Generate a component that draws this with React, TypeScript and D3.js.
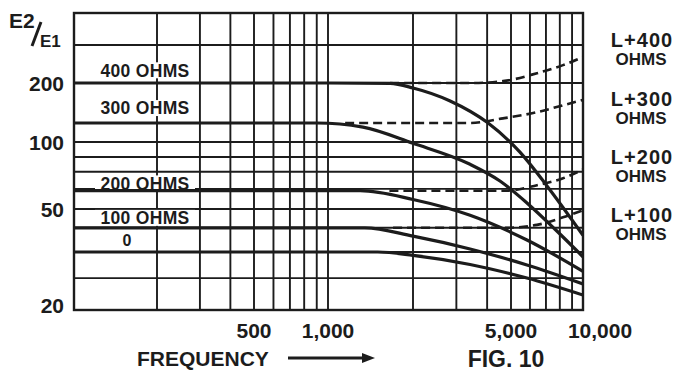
import React from 'react';
import * as d3 from 'd3';

// ---- axis data ----
const xGridValues = [200, 300, 400, 500, 600, 700, 800, 900, 1000, 2000, 3000, 4000, 5000, 6000, 7000, 8000, 9000];
const xLabelValues = [500, 1000, 5000, 10000];
const xLabelTexts = ['500', '1,000', '5,000', '10,000'];
const yGridValues = [25, 30, 40, 50, 60, 70, 80, 100, 200, 300];
const yLabelValues = [200, 100, 50, 20];
const yLabelTexts = ['200', '100', '50', '20'];

// ---- solid curves (resistance R) ----
const f400 = [100, 1000, 1660, 2000, 2830, 4000, 5450, 7070, 10000];
const v400 = [200, 200, 199, 188.7, 162, 126, 86, 61.6, 36.6];
const f300 = [100, 900, 1330, 2000, 3410, 4510, 5830, 7640, 10000];
const v300 = [125, 125, 119, 98, 74.9, 64.4, 52.8, 39.3, 29];
const f200 = [100, 1300, 2000, 3410, 5830, 10000];
const v200 = [59, 59, 54.5, 46.4, 34.6, 26.2];
const f100 = [100, 1350, 2000, 3410, 5830, 10000];
const v100 = [40, 40, 36.2, 31.1, 27.4, 24];
const f0 = [100, 1500, 2000, 3410, 5830, 10000];
const v0 = [30, 30, 29.3, 27.5, 25.0, 22.2];

// ---- dashed curves (L + R) ----
const fL400 = [1660, 3400, 4640, 6420, 8250, 10000];
const vL400 = [200, 200, 204, 222, 242, 264];
const fL300 = [1150, 3400, 4640, 6420, 8250, 10000];
const vL300 = [125, 125, 132, 142, 154, 164];
const fL200 = [1650, 4800, 6420, 8250, 10000];
const vL200 = [59, 59, 62, 66, 71.5];
const fL100 = [1700, 4700, 6420, 8250, 10000];
const vL100 = [40, 40, 41.4, 45.3, 49.3];

const curveLabels = ['400 OHMS', '300 OHMS', '200 OHMS', '100 OHMS', '0'];
const curveLabelValues = [229, 149, 63, 45, 34.6];
const rightLabels = ['L+400', 'L+300', 'L+200', 'L+100'];

const W = 686;
const H = 373;
const FONT = '"Liberation Sans", Arial, sans-serif';
const INK = '#1c1c1c';

export default function App() {
  const x = d3.scaleLog()
    .domain([100, 200, 500, 1000, 2000, 5000, 10000])
    .range([74, 157, 254, 328, 413, 511, 583]);
  const y = d3.scaleLog()
    .domain([20, 30, 50, 80, 100, 200, 300, 400])
    .range([310, 252, 209, 157, 142, 83, 45, 13]);

  const [x0, x1] = [x(100), x(10000)];
  const [yb, yt] = [y(20), y(400)];

  const line = d3.line<[number, number]>()
    .x(d => x(d[0]))
    .y(d => y(d[1]))
    .curve(d3.curveMonotoneX);
  const zip = (f: number[], v: number[]) => f.map((fv, i) => [fv, v[i]] as [number, number]);

  const solids = [zip(f400, v400), zip(f300, v300), zip(f200, v200), zip(f100, v100), zip(f0, v0)];
  const dashes = [zip(fL400, vL400), zip(fL300, vL300), zip(fL200, vL200), zip(fL100, vL100)];
  const rightY = [40, 99, 157, 215];

  return (
    <svg width={W} height={H} style={{ position: 'absolute', left: 0, top: 0, background: '#fff' }}>
      <defs>
        <clipPath id="plot">
          <rect x={x0} y={yt} width={x1 - x0} height={yb - yt} />
        </clipPath>
      </defs>
      <rect width={W} height={H} fill="#fff" />

      {/* grid */}
      <g stroke={INK} strokeWidth={1.9}>
        {xGridValues.map(v => (
          <line key={'vx' + v} x1={x(v)} x2={x(v)} y1={yt} y2={yb} />
        ))}
        {yGridValues.map(v => (
          <line key={'hy' + v} x1={x0} x2={x1} y1={y(v)} y2={y(v)} />
        ))}
      </g>
      <rect x={x0} y={yt} width={x1 - x0} height={yb - yt} fill="none" stroke={INK} strokeWidth={2.4} />

      {/* curve labels with white backgrounds */}
      {curveLabels.map((t, i) => {
        const cy = y(curveLabelValues[i]);
        const isZero = t === '0';
        const cx = isZero ? 127 : 145;
        const w = isZero ? 16 : 100;
        return (
          <g key={t}>
            <rect x={cx - w / 2} y={cy - 8} width={w} height={16} fill="#fff" />
            <text x={cx} y={cy} dy="0.36em" textAnchor="middle" fontFamily={FONT} fontWeight={700}
              fontSize={isZero ? 16 : 17.5} fill={INK} letterSpacing={isZero ? 0 : 0.3}>{t}</text>
          </g>
        );
      })}

      {/* curves */}
      <g clipPath="url(#plot)" fill="none" stroke={INK}>
        {dashes.map((d, i) => (
          <path key={'d' + i} d={line(d) || ''} strokeWidth={2.6} strokeDasharray="9,5" />
        ))}
        {solids.map((d, i) => (
          <path key={'s' + i} d={line(d) || ''} strokeWidth={3.2} />
        ))}
      </g>

      {/* y labels */}
      {yLabelValues.map((v, i) => (
        <text key={'yl' + v} x={64} y={y(v) - (v === 20 ? 5 : 0)} dy="0.36em" textAnchor="end"
          fontFamily={FONT} fontWeight={700} fontSize={21} fill={INK}>{yLabelTexts[i]}</text>
      ))}

      {/* x labels */}
      {xLabelValues.map((v, i) => (
        <text key={'xl' + v} x={x(v) + (v === 10000 ? 17 : 0)} y={330} dy="0.36em" textAnchor="middle"
          fontFamily={FONT} fontWeight={700} fontSize={21} fill={INK}>{xLabelTexts[i]}</text>
      ))}

      {/* E2/E1 */}
      <text x={9} y={28} fontFamily={FONT} fontWeight={700} fontSize={21} fill={INK}>E2</text>
      <line x1={32} y1={46} x2={41} y2={22} stroke={INK} strokeWidth={3} />
      <text x={40} y={47} fontFamily={FONT} fontWeight={700} fontSize={17} fill={INK}>E1</text>

      {/* right labels */}
      {rightLabels.map((t, i) => (
        <g key={t} fontFamily={FONT} fontWeight={700} fill={INK} textAnchor="middle">
          <text x={642} y={rightY[i]} dy="0.36em" fontSize={20} letterSpacing={1}>{t}</text>
          <text x={641} y={rightY[i] + 19} dy="0.36em" fontSize={17}>OHMS</text>
        </g>
      ))}

      {/* bottom */}
      <text x={137} y={358} dy="0.36em" fontFamily={FONT} fontWeight={700} fontSize={21} fill={INK}>FREQUENCY</text>
      <line x1={288} y1={358} x2={364} y2={358} stroke={INK} strokeWidth={3} />
      <polygon points="362,353 375,358 362,363" fill={INK} />
      <text x={506} y={359} dy="0.36em" textAnchor="middle" fontFamily={FONT} fontWeight={700} fontSize={23} fill={INK}>FIG. 10</text>
    </svg>
  );
}
